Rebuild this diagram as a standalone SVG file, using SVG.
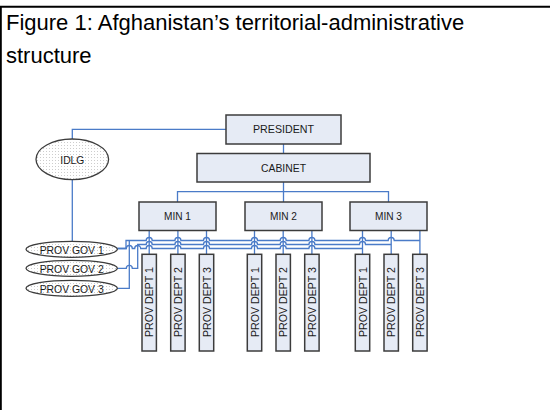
<svg xmlns="http://www.w3.org/2000/svg" width="550" height="410" viewBox="0 0 550 410">
<defs>
<pattern id="dots" width="3" height="3" patternUnits="userSpaceOnUse">
<rect width="3" height="3" fill="#ffffff"/>
<circle cx="1.5" cy="1.5" r="0.5" fill="#bdbdbd"/>
</pattern>
<style>
.box{fill:#e6ebf5;stroke:#3c3c3c;stroke-width:1.5}
.ell{fill:url(#dots);stroke:#3c3c3c;stroke-width:1.3}
.lbl{font-family:"Liberation Sans",Arial,sans-serif;font-size:11.5px;fill:#1a1a1a;text-anchor:middle}
.title{font-family:"Liberation Sans",Arial,sans-serif;font-size:22px;fill:#000}
.con{fill:none;stroke:#4a7bc8;stroke-width:1.3}
</style>
</defs>
<rect width="550" height="410" fill="#ffffff"/>
<path d="M0.8,410 V6.7 H550" fill="none" stroke="#000" stroke-width="2"/>
<g id="title">
<text class="title" x="6" y="29.5">Figure 1: Afghanistan’s territorial-administrative</text>
<text class="title" x="6" y="63">structure</text>
</g>
<g id="connectors">
<path class="con" d="M226,129.3 H72.3 V139"/>
<path class="con" d="M72.3,179.6 V241.3"/>
<path class="con" d="M283.5,144 V153.5"/>
<path class="con" d="M283.5,182 V202 M177.5,202 V191.7 H388.5 V202"/>
<path class="con" d="M149.2,230.5 V254.3 M177.9,230.5 V254.3 M206.5,230.5 V254.3 M254.5,230.5 V254.3 M283.2,230.5 V254.3 M311.9,230.5 V254.3 M362.5,230.5 V254.3 M391.2,230.5 V254.3 M419.9,230.5 V254.3"/>
<path class="con" d="M117.4,248.5 H126 V240.5 H146.2 a3,3 0 0 1 6,0 H174.9 a3,3 0 0 1 6,0 H203.5 a3,3 0 0 1 6,0 H251.5 a3,3 0 0 1 6,0 H280.2 a3,3 0 0 1 6,0 H308.9 a3,3 0 0 1 6,0 H359.5 a3,3 0 0 1 6,0 H388.2 a3,3 0 0 1 6,0 H419.9"/>
<path class="con" d="M117.4,268.3 H126.3 a3,3 0 0 1 6,0 H137.7 V244.5 H146.2 a3,3 0 0 1 6,0 H174.9 a3,3 0 0 1 6,0 H203.5 a3,3 0 0 1 6,0 H251.5 a3,3 0 0 1 6,0 H280.2 a3,3 0 0 1 6,0 H308.9 a3,3 0 0 1 6,0 H359.5 a3,3 0 0 1 6,0 H391.2"/>
<path class="con" d="M117.4,248.5 H126.3 a3,3 0 0 1 6,0 H134.7 a3,3 0 0 1 6,0 H146.2 a3,3 0 0 1 6,0 H174.9 a3,3 0 0 1 6,0 H203.5 a3,3 0 0 1 6,0 H251.5 a3,3 0 0 1 6,0 H280.2 a3,3 0 0 1 6,0 H308.9 a3,3 0 0 1 6,0 H362.5"/>
<path class="con" d="M117.4,288.3 H129.3 V240.5"/>
</g>
<g id="president"><rect class="box" x="226" y="115" width="115" height="29"/><text class="lbl" x="283.5" y="133.2" textLength="61" lengthAdjust="spacingAndGlyphs">PRESIDENT</text></g>
<g id="cabinet"><rect class="box" x="197" y="153.5" width="173" height="28.5"/><text class="lbl" x="283.5" y="171.8" textLength="45" lengthAdjust="spacingAndGlyphs">CABINET</text></g>
<g id="min1"><rect class="box" x="139" y="202" width="77" height="28.5"/><text class="lbl" x="177.5" y="219.8" textLength="27" lengthAdjust="spacingAndGlyphs">MIN 1</text></g>
<g id="min2"><rect class="box" x="245" y="202" width="77" height="28.5"/><text class="lbl" x="283.5" y="219.8" textLength="27" lengthAdjust="spacingAndGlyphs">MIN 2</text></g>
<g id="min3"><rect class="box" x="350" y="202" width="77" height="28.5"/><text class="lbl" x="388.5" y="219.8" textLength="27" lengthAdjust="spacingAndGlyphs">MIN 3</text></g>
<g id="idlg"><ellipse class="ell" cx="72.3" cy="159.3" rx="36.3" ry="20.3"/><text class="lbl" x="72.3" y="163.5" textLength="24" lengthAdjust="spacingAndGlyphs">IDLG</text></g>
<g id="provgov1"><ellipse class="ell" cx="71.7" cy="249.3" rx="45.7" ry="8"/><text class="lbl" x="71.7" y="253.5" textLength="64" lengthAdjust="spacingAndGlyphs">PROV GOV 1</text></g>
<g id="provgov2"><ellipse class="ell" cx="71.7" cy="268.3" rx="45.7" ry="8"/><text class="lbl" x="71.7" y="272.5" textLength="64" lengthAdjust="spacingAndGlyphs">PROV GOV 2</text></g>
<g id="provgov3"><ellipse class="ell" cx="71.7" cy="288.3" rx="45.7" ry="8"/><text class="lbl" x="71.7" y="292.5" textLength="64" lengthAdjust="spacingAndGlyphs">PROV GOV 3</text></g>
<g id="min1-dept1"><rect class="box" x="142" y="254.3" width="14.4" height="96.7"/><text class="lbl" transform="translate(149.2,302) rotate(-90)" y="4.2" textLength="70" lengthAdjust="spacingAndGlyphs">PROV DEPT 1</text></g>
<g id="min1-dept2"><rect class="box" x="170.7" y="254.3" width="14.4" height="96.7"/><text class="lbl" transform="translate(177.9,302) rotate(-90)" y="4.2" textLength="70" lengthAdjust="spacingAndGlyphs">PROV DEPT 2</text></g>
<g id="min1-dept3"><rect class="box" x="199.3" y="254.3" width="14.4" height="96.7"/><text class="lbl" transform="translate(206.5,302) rotate(-90)" y="4.2" textLength="70" lengthAdjust="spacingAndGlyphs">PROV DEPT 3</text></g>
<g id="min2-dept1"><rect class="box" x="247.3" y="254.3" width="14.4" height="96.7"/><text class="lbl" transform="translate(254.5,302) rotate(-90)" y="4.2" textLength="70" lengthAdjust="spacingAndGlyphs">PROV DEPT 1</text></g>
<g id="min2-dept2"><rect class="box" x="276" y="254.3" width="14.4" height="96.7"/><text class="lbl" transform="translate(283.2,302) rotate(-90)" y="4.2" textLength="70" lengthAdjust="spacingAndGlyphs">PROV DEPT 2</text></g>
<g id="min2-dept3"><rect class="box" x="304.7" y="254.3" width="14.4" height="96.7"/><text class="lbl" transform="translate(311.9,302) rotate(-90)" y="4.2" textLength="70" lengthAdjust="spacingAndGlyphs">PROV DEPT 3</text></g>
<g id="min3-dept1"><rect class="box" x="355.3" y="254.3" width="14.4" height="96.7"/><text class="lbl" transform="translate(362.5,302) rotate(-90)" y="4.2" textLength="70" lengthAdjust="spacingAndGlyphs">PROV DEPT 1</text></g>
<g id="min3-dept2"><rect class="box" x="384" y="254.3" width="14.4" height="96.7"/><text class="lbl" transform="translate(391.2,302) rotate(-90)" y="4.2" textLength="70" lengthAdjust="spacingAndGlyphs">PROV DEPT 2</text></g>
<g id="min3-dept3"><rect class="box" x="412.7" y="254.3" width="14.4" height="96.7"/><text class="lbl" transform="translate(419.9,302) rotate(-90)" y="4.2" textLength="70" lengthAdjust="spacingAndGlyphs">PROV DEPT 3</text></g>
</svg>
